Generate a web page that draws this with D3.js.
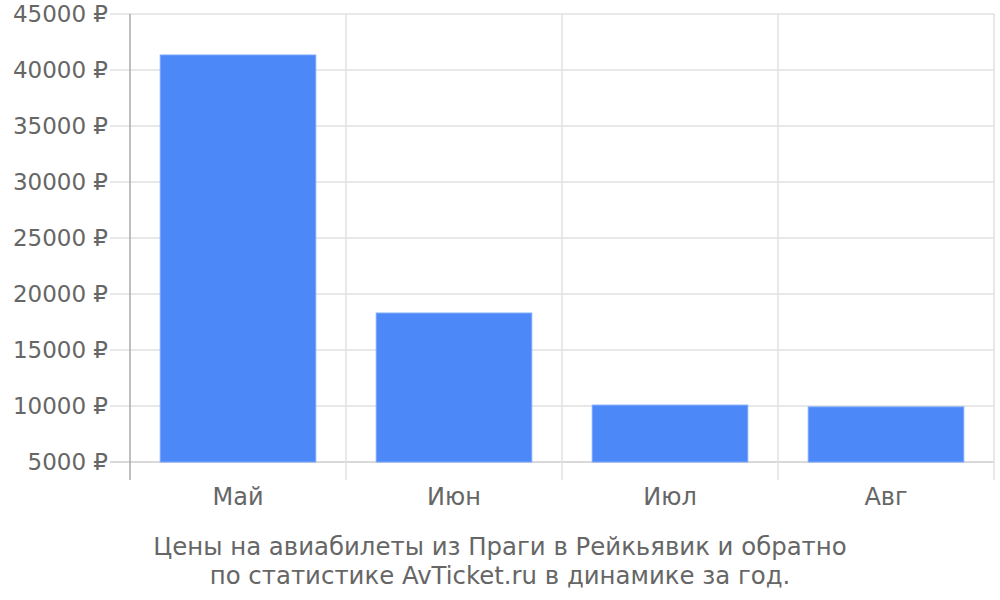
<!DOCTYPE html>
<html><head><meta charset="utf-8">
<script src="https://cdn.jsdelivr.net/npm/d3@7"></script>
<style>body{margin:0;background:#fff}text{font-family:"DejaVu Sans",sans-serif;fill:#666}</style>
</head><body><svg id="c" width="1000" height="600"></svg>
<script>
const categories = ["Май", "Июн", "Июл", "Авг"];
const prices = [41340, 18300, 10080, 9920];
const yTicks = [5000, 10000, 15000, 20000, 25000, 30000, 35000, 40000, 45000];
const titleLines = ["Цены на авиабилеты из Праги в Рейкьявик и обратно", "по статистике AvTicket.ru в динамике за год."];

const svg = d3.select("#c");
const L = 130, R = 994, T = 14, B = 462;
const x = d3.scaleBand().domain(categories).range([L, R]);
const y = d3.scaleLinear().domain([5000, 45000]).range([B, T]);

// horizontal grid
svg.append("g").selectAll("line").data(yTicks).join("line")
  .attr("x1", L - 20).attr("x2", R).attr("y1", d => y(d)).attr("y2", d => y(d))
  .attr("stroke", d => d === 5000 ? "#ccc" : "#e0e0e0").attr("stroke-width", 1.5);
// vertical grid
const bounds = categories.map(c => x(c)).concat([R]);
svg.append("g").selectAll("line").data(bounds.slice(1)).join("line")
  .attr("x1", d => d).attr("x2", d => d).attr("y1", T).attr("y2", B + 18)
  .attr("stroke", "#e0e0e0").attr("stroke-width", 1.5);
// y axis line
svg.append("line").attr("x1", L).attr("x2", L).attr("y1", T).attr("y2", B + 18)
  .attr("stroke", "#aaa").attr("stroke-width", 1.5);

// bars
const bw = x.bandwidth();
svg.append("g").selectAll("rect").data(prices).join("rect")
  .attr("x", (d, i) => x(categories[i]) + bw * 0.14)
  .attr("width", bw * 0.72)
  .attr("y", d => y(d)).attr("height", d => y(5000) - y(d))
  .attr("fill", "#4d88f9").attr("stroke", "#7aa6fb").attr("stroke-width", 1);

// y labels
svg.append("g").selectAll("text").data(yTicks).join("text")
  .attr("x", 108).attr("y", d => y(d)).attr("dy", "0.36em")
  .attr("text-anchor", "end").attr("font-size", 23)
  .text(d => d + " ₽");
// x labels
svg.append("g").selectAll("text").data(categories).join("text")
  .attr("x", d => x(d) + bw / 2).attr("y", 505)
  .attr("text-anchor", "middle").attr("font-size", 24).text(d => d);
// title
svg.append("g").selectAll("text").data(titleLines).join("text")
  .attr("x", 500).attr("y", (d, i) => 555 + i * 28.5)
  .attr("text-anchor", "middle").attr("font-size", 24.4).text(d => d);
</script></body></html>
